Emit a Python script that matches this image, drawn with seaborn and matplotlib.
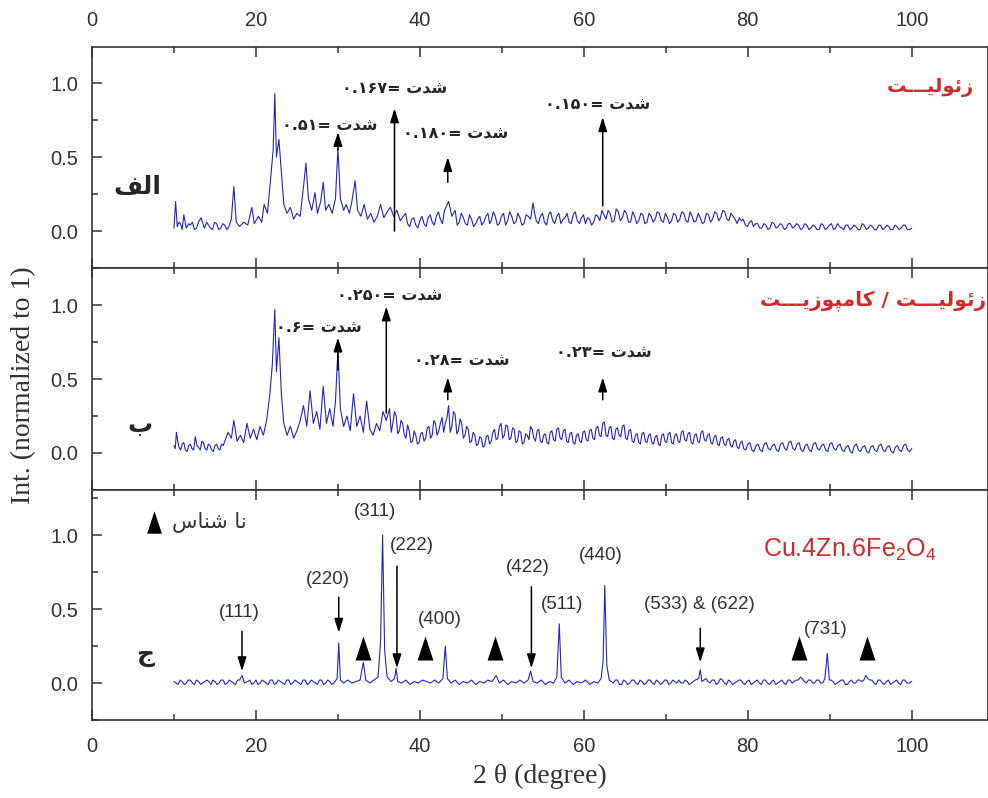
"""
XRD patterns: zeolite, zeolite/composite and Cu.4Zn.6Fe2O4 (stacked panels)
"""
import numpy as np
import pandas as pd
import matplotlib
matplotlib.use('Agg')
import matplotlib.pyplot as plt
from matplotlib.path import Path as MPath
from matplotlib.ticker import MultipleLocator
import seaborn as sns

# ---- data: (2theta, normalized intensity) ----
zeolite_pts = [
    (10.0, 0.02), (10.2, 0.20), (10.4, 0.03), (10.8, 0.05), (11.2, 0.11), (11.5, 0.02), (12.0, 0.04),
    (12.5, 0.01), (13.0, 0.06), (13.3, 0.09), (13.7, 0.02), (14.2, 0.04), (14.7, 0.01), (15.2, 0.05),
    (15.7, 0.02), (16.2, 0.04), (16.7, 0.03), (17.0, 0.08), (17.3, 0.30), (17.6, 0.06), (18.0, 0.03),
    (18.5, 0.06), (19.0, 0.04), (19.5, 0.16), (19.8, 0.05), (20.3, 0.10), (20.7, 0.06), (21.0, 0.18),
    (21.4, 0.12), (21.8, 0.36), (22.1, 0.55), (22.3, 0.93), (22.5, 0.50), (22.8, 0.62), (23.1, 0.40),
    (23.4, 0.18), (23.8, 0.12), (24.2, 0.16), (24.6, 0.08), (25.0, 0.12), (25.4, 0.10), (25.8, 0.30),
    (26.1, 0.46), (26.4, 0.22), (26.8, 0.14), (27.2, 0.26), (27.5, 0.12), (27.9, 0.20), (28.2, 0.33),
    (28.5, 0.14), (28.9, 0.18), (29.3, 0.12), (29.7, 0.22), (30.0, 0.56), (30.3, 0.22), (30.7, 0.14),
    (31.0, 0.18), (31.4, 0.12), (31.7, 0.20), (32.1, 0.34), (32.4, 0.14), (32.8, 0.10), (33.2, 0.18),
    (33.6, 0.08), (34.0, 0.12), (34.4, 0.06), (34.8, 0.10), (35.2, 0.18), (35.6, 0.09), (36.0, 0.13),
    (36.4, 0.16), (36.8, 0.10), (37.2, 0.14), (37.6, 0.07), (38.0, 0.10), (38.5, 0.05), (39.0, 0.08),
    (39.5, 0.04), (40.0, 0.07), (40.5, 0.05), (41.0, 0.09), (41.5, 0.06), (42.0, 0.10), (42.5, 0.08),
    (43.0, 0.14), (43.5, 0.20), (43.9, 0.10), (44.3, 0.14), (44.8, 0.06), (45.3, 0.09), (45.8, 0.04),
    (46.3, 0.08), (46.8, 0.05), (47.3, 0.10), (47.8, 0.06), (48.3, 0.12), (48.7, 0.07), (49.2, 0.10),
    (49.7, 0.05), (50.2, 0.12), (50.7, 0.07), (51.2, 0.10), (51.7, 0.06), (52.2, 0.09), (52.7, 0.05),
    (53.2, 0.10), (53.8, 0.19), (54.2, 0.07), (54.7, 0.10), (55.2, 0.06), (55.7, 0.11), (56.2, 0.07),
    (56.7, 0.10), (57.2, 0.05), (57.7, 0.09), (58.2, 0.06), (58.7, 0.11), (59.2, 0.07), (59.7, 0.09),
    (60.2, 0.05), (60.7, 0.08), (61.2, 0.06), (61.7, 0.10), (62.2, 0.14), (62.7, 0.08), (63.2, 0.12),
    (63.7, 0.07), (64.2, 0.13), (64.7, 0.09), (65.2, 0.12), (65.7, 0.06), (66.2, 0.10), (66.7, 0.07),
    (67.2, 0.11), (67.7, 0.06), (68.2, 0.10), (68.7, 0.08), (69.2, 0.12), (69.7, 0.06), (70.2, 0.09),
    (70.7, 0.07), (71.2, 0.11), (71.7, 0.08), (72.2, 0.12), (72.7, 0.06), (73.2, 0.10), (73.7, 0.07),
    (74.2, 0.09), (74.7, 0.06), (75.2, 0.11), (75.7, 0.08), (76.2, 0.12), (76.7, 0.09), (77.2, 0.13),
    (77.7, 0.07), (78.2, 0.10), (78.7, 0.05), (79.2, 0.07), (79.7, 0.04), (80.2, 0.06), (80.7, 0.03),
    (81.2, 0.05), (81.7, 0.02), (82.2, 0.04), (82.7, 0.02), (83.2, 0.05), (83.7, 0.03), (84.2, 0.04),
    (84.7, 0.02), (85.2, 0.05), (85.7, 0.03), (86.2, 0.04), (86.7, 0.02), (87.2, 0.04), (87.7, 0.02),
    (88.2, 0.03), (88.7, 0.01), (89.2, 0.04), (89.7, 0.02), (90.2, 0.05), (90.7, 0.02), (91.2, 0.03),
    (91.7, 0.01), (92.2, 0.04), (92.7, 0.02), (93.2, 0.03), (93.7, 0.01), (94.2, 0.04), (94.7, 0.02),
    (95.2, 0.03), (95.7, 0.01), (96.2, 0.04), (96.7, 0.02), (97.2, 0.03), (97.7, 0.01), (98.2, 0.03),
    (98.7, 0.02), (99.2, 0.04), (99.7, 0.01), (100.0, 0.02),
]
# finer noise points of the same trace
zeolite_noise = [
    (10.6, 0.06), (11.0, 0.01), (11.8, 0.05), (12.25, 0.06), (12.75, 0.02), (14.0, 0.06), (14.45, 0.02),
    (14.95, 0.06), (15.45, 0.01), (15.95, 0.05), (16.45, 0.01),
    (38.25, 0.12), (38.75, 0.03), (39.25, 0.09), (39.75, 0.02), (40.25, 0.10), (40.75, 0.03), (41.25, 0.11),
    (41.75, 0.04), (42.25, 0.13), (42.75, 0.05), (44.55, 0.04), (45.05, 0.12), (45.55, 0.05), (46.05, 0.11),
    (46.55, 0.03), (47.05, 0.08), (47.55, 0.04), (48.05, 0.10), (48.5, 0.05), (48.95, 0.13), (49.45, 0.04),
    (49.95, 0.10), (50.45, 0.04), (50.95, 0.13), (51.45, 0.05), (51.95, 0.12), (52.45, 0.04), (52.95, 0.11),
    (53.5, 0.08), (54.0, 0.12), (54.45, 0.05), (54.95, 0.12), (55.45, 0.04), (55.95, 0.13), (56.45, 0.05),
    (56.95, 0.12), (57.45, 0.08), (57.95, 0.12), (58.45, 0.05), (58.95, 0.13), (59.45, 0.05), (59.95, 0.11),
    (60.45, 0.09), (60.95, 0.04), (61.45, 0.11), (61.95, 0.07), (62.45, 0.11), (62.95, 0.14), (63.45, 0.06),
    (63.95, 0.15), (64.45, 0.07), (64.95, 0.14), (65.45, 0.06), (65.95, 0.13), (66.45, 0.05), (66.95, 0.12),
    (67.45, 0.05), (67.95, 0.12), (68.45, 0.06), (68.95, 0.13), (69.45, 0.07), (69.95, 0.12), (70.45, 0.05),
    (70.95, 0.12), (71.45, 0.06), (71.95, 0.13), (72.45, 0.07), (72.95, 0.13), (73.45, 0.06), (73.95, 0.12),
    (74.45, 0.05), (74.95, 0.12), (75.45, 0.06), (75.95, 0.13), (76.45, 0.07), (76.95, 0.14), (77.45, 0.08),
    (77.95, 0.12), (78.45, 0.08), (78.95, 0.09), (79.45, 0.08), (79.95, 0.03), (80.45, 0.07), (80.95, 0.05),
    (81.45, 0.02), (81.95, 0.05), (82.45, 0.01), (82.95, 0.06), (83.45, 0.02), (83.95, 0.05), (84.45, 0.01),
    (84.95, 0.05), (85.45, 0.02), (85.95, 0.05), (86.45, 0.01), (86.95, 0.05), (87.45, 0.01), (87.95, 0.04),
    (88.45, 0.01), (88.95, 0.05), (89.45, 0.01), (89.95, 0.04), (90.45, 0.01), (90.95, 0.05), (91.45, 0.02),
    (91.95, 0.04), (92.45, 0.01), (92.95, 0.04), (93.45, 0.01), (93.95, 0.05), (94.45, 0.01), (94.95, 0.04),
    (95.45, 0.01), (95.95, 0.04), (96.45, 0.01), (96.95, 0.04), (97.45, 0.01), (97.95, 0.04), (98.45, 0.01),
    (98.95, 0.04), (99.45, 0.01),
]

composite_pts = [
    (10.0, 0.05), (10.3, 0.14), (10.6, 0.04), (11.0, 0.06), (11.4, 0.02), (11.8, 0.05), (12.2, 0.03),
    (12.6, 0.11), (13.0, 0.04), (13.4, 0.08), (13.8, 0.03), (14.2, 0.06), (14.6, 0.02), (15.0, 0.05),
    (15.4, 0.03), (15.8, 0.06), (16.2, 0.08), (16.6, 0.14), (17.0, 0.10), (17.3, 0.22), (17.7, 0.08),
    (18.1, 0.12), (18.5, 0.07), (18.9, 0.20), (19.3, 0.10), (19.7, 0.16), (20.1, 0.09), (20.5, 0.18),
    (20.9, 0.12), (21.3, 0.22), (21.7, 0.40), (22.0, 0.60), (22.3, 0.97), (22.5, 0.55), (22.8, 0.78),
    (23.1, 0.40), (23.4, 0.20), (23.8, 0.12), (24.2, 0.18), (24.6, 0.10), (25.0, 0.15), (25.4, 0.22),
    (25.8, 0.32), (26.2, 0.18), (26.6, 0.42), (27.0, 0.20), (27.4, 0.28), (27.8, 0.16), (28.2, 0.45),
    (28.6, 0.20), (29.0, 0.30), (29.4, 0.18), (29.7, 0.35), (30.0, 0.70), (30.3, 0.30), (30.7, 0.18),
    (31.1, 0.25), (31.5, 0.15), (31.9, 0.40), (32.3, 0.18), (32.7, 0.25), (33.1, 0.14), (33.5, 0.35),
    (33.9, 0.16), (34.3, 0.12), (34.7, 0.20), (35.1, 0.15), (35.5, 0.28), (35.9, 0.22), (36.3, 0.30),
    (36.7, 0.20), (37.1, 0.25), (37.5, 0.15), (37.9, 0.20), (38.3, 0.10), (38.7, 0.15), (39.1, 0.08),
    (39.5, 0.12), (39.9, 0.07), (40.3, 0.14), (40.7, 0.10), (41.1, 0.18), (41.5, 0.12), (41.9, 0.20),
    (42.3, 0.15), (42.7, 0.24), (43.1, 0.20), (43.5, 0.32), (43.9, 0.18), (44.3, 0.26), (44.7, 0.15),
    (45.1, 0.20), (45.5, 0.12), (45.9, 0.16), (46.3, 0.08), (46.7, 0.12), (47.1, 0.06), (47.5, 0.10),
    (47.9, 0.05), (48.3, 0.12), (48.7, 0.08), (49.1, 0.16), (49.5, 0.10), (49.9, 0.20), (50.3, 0.12),
    (50.7, 0.18), (51.1, 0.10), (51.5, 0.16), (51.9, 0.08), (52.3, 0.14), (52.7, 0.07), (53.1, 0.12),
    (53.5, 0.18), (53.9, 0.10), (54.3, 0.15), (54.7, 0.08), (55.1, 0.12), (55.5, 0.07), (55.9, 0.14),
    (56.3, 0.09), (56.7, 0.16), (57.1, 0.10), (57.5, 0.15), (57.9, 0.08), (58.3, 0.13), (58.7, 0.07),
    (59.1, 0.12), (59.5, 0.08), (59.9, 0.14), (60.3, 0.09), (60.7, 0.15), (61.1, 0.10), (61.5, 0.17),
    (61.9, 0.12), (62.3, 0.20), (62.7, 0.12), (63.1, 0.17), (63.5, 0.10), (63.9, 0.16), (64.3, 0.12),
    (64.7, 0.18), (65.1, 0.10), (65.5, 0.15), (65.9, 0.08), (66.3, 0.12), (66.7, 0.07), (67.1, 0.13),
    (67.5, 0.08), (67.9, 0.12), (68.3, 0.07), (68.7, 0.11), (69.1, 0.06), (69.5, 0.12), (69.9, 0.08),
    (70.3, 0.13), (70.7, 0.07), (71.1, 0.12), (71.5, 0.08), (71.9, 0.14), (72.3, 0.09), (72.7, 0.13),
    (73.1, 0.07), (73.5, 0.12), (73.9, 0.08), (74.3, 0.14), (74.7, 0.09), (75.1, 0.12), (75.5, 0.07),
    (75.9, 0.11), (76.3, 0.06), (76.7, 0.10), (77.1, 0.06), (77.5, 0.09), (77.9, 0.05), (78.3, 0.08),
    (78.7, 0.04), (79.1, 0.07), (79.5, 0.03), (80.0, 0.06), (80.5, 0.02), (81.0, 0.05), (81.5, 0.02),
    (82.0, 0.06), (82.5, 0.03), (83.0, 0.05), (83.5, 0.02), (84.0, 0.06), (84.5, 0.03), (85.0, 0.07),
    (85.5, 0.03), (86.0, 0.06), (86.5, 0.02), (87.0, 0.05), (87.5, 0.02), (88.0, 0.06), (88.5, 0.03),
    (89.0, 0.05), (89.5, 0.02), (90.0, 0.06), (90.5, 0.03), (91.0, 0.05), (91.5, 0.02), (92.0, 0.04),
    (92.5, 0.01), (93.0, 0.05), (93.5, 0.02), (94.0, 0.04), (94.5, 0.01), (95.0, 0.04), (95.5, 0.02),
    (96.0, 0.05), (96.5, 0.02), (97.0, 0.04), (97.5, 0.01), (98.0, 0.04), (98.5, 0.02), (99.0, 0.05),
    (99.5, 0.02), (100.0, 0.03),
]
composite_noise = [
    (10.15, 0.03), (10.45, 0.08), (10.8, 0.02), (11.2, 0.07), (11.6, 0.01), (12.0, 0.06), (12.4, 0.02),
    (12.8, 0.05), (13.2, 0.02), (13.6, 0.07), (14.0, 0.02), (14.4, 0.05), (14.8, 0.01), (15.2, 0.06),
    (15.6, 0.02), (16.0, 0.05),
    (36.5, 0.14), (36.9, 0.28), (37.3, 0.13), (37.7, 0.22), (38.1, 0.12), (38.5, 0.19), (38.9, 0.07),
    (39.3, 0.15), (39.7, 0.06), (40.1, 0.13), (40.5, 0.08), (40.9, 0.17), (41.3, 0.10), (41.7, 0.22),
    (42.1, 0.12), (42.5, 0.20), (42.9, 0.14), (43.3, 0.24), (43.7, 0.14), (44.1, 0.28), (44.5, 0.13),
    (44.9, 0.23), (45.3, 0.10), (45.7, 0.18), (46.1, 0.07), (46.5, 0.14), (46.9, 0.05), (47.3, 0.11),
    (47.7, 0.04), (48.1, 0.11), (48.5, 0.06), (48.9, 0.14), (49.3, 0.09), (49.7, 0.18), (50.1, 0.10),
    (50.5, 0.19), (50.9, 0.09), (51.3, 0.17), (51.7, 0.07), (52.1, 0.15), (52.5, 0.06), (52.9, 0.13),
    (53.3, 0.09), (53.7, 0.16), (54.1, 0.08), (54.5, 0.16), (54.9, 0.07), (55.3, 0.13), (55.7, 0.06),
    (56.1, 0.15), (56.5, 0.08), (56.9, 0.17), (57.3, 0.09), (57.7, 0.16), (58.1, 0.07), (58.5, 0.14),
    (58.9, 0.06), (59.3, 0.13), (59.7, 0.07), (60.1, 0.15), (60.5, 0.08), (60.9, 0.16), (61.3, 0.09),
    (61.7, 0.18), (62.1, 0.11), (62.5, 0.21), (62.9, 0.11), (63.3, 0.18), (63.7, 0.09), (64.1, 0.17),
    (64.5, 0.11), (64.9, 0.19), (65.3, 0.09), (65.7, 0.16), (66.1, 0.07), (66.5, 0.13), (66.9, 0.06),
    (67.3, 0.14), (67.7, 0.07), (68.1, 0.13), (68.5, 0.06), (68.9, 0.12), (69.3, 0.05), (69.7, 0.13),
    (70.1, 0.07), (70.5, 0.14), (70.9, 0.06), (71.3, 0.13), (71.7, 0.07), (72.1, 0.15), (72.5, 0.08),
    (72.9, 0.14), (73.3, 0.06), (73.7, 0.13), (74.1, 0.07), (74.5, 0.15), (74.9, 0.08), (75.3, 0.13),
    (75.7, 0.06), (76.1, 0.12), (76.5, 0.05), (76.9, 0.11), (77.3, 0.05), (77.7, 0.10), (78.1, 0.04),
    (78.5, 0.09), (78.9, 0.03), (79.3, 0.08), (79.75, 0.02), (80.25, 0.07), (80.75, 0.01), (81.25, 0.06),
    (81.75, 0.01), (82.25, 0.07), (82.75, 0.02), (83.25, 0.06), (83.75, 0.01), (84.25, 0.07), (84.75, 0.02),
    (85.25, 0.08), (85.75, 0.02), (86.25, 0.07), (86.75, 0.01), (87.25, 0.06), (87.75, 0.01), (88.25, 0.07),
    (88.75, 0.02), (89.25, 0.06), (89.75, 0.01), (90.25, 0.07), (90.75, 0.02), (91.25, 0.06), (91.75, 0.01),
    (92.25, 0.05), (92.75, 0.00), (93.25, 0.06), (93.75, 0.01), (94.25, 0.05), (94.75, 0.00), (95.25, 0.05),
    (95.75, 0.01), (96.25, 0.06), (96.75, 0.01), (97.25, 0.05), (97.75, 0.00), (98.25, 0.05), (98.75, 0.01),
    (99.25, 0.06), (99.75, 0.01),
]

ferrite_pts = [
    (10.0, 0.01), (10.5, -0.01), (11.0, 0.01), (11.5, 0.0), (12.0, 0.02), (12.5, -0.01), (13.0, 0.01),
    (13.5, 0.0), (14.0, 0.02), (14.5, -0.01), (15.0, 0.01), (15.5, 0.0), (16.0, 0.02), (16.5, 0.0),
    (17.0, 0.01), (17.5, -0.01), (18.0, 0.02), (18.3, 0.05), (18.6, 0.0), (19.0, 0.01), (19.5, -0.01),
    (20.0, 0.02), (20.5, 0.0), (21.0, 0.01), (21.5, -0.01), (22.0, 0.02), (22.5, 0.0), (23.0, 0.01),
    (23.5, -0.01), (24.0, 0.02), (24.5, 0.0), (25.0, 0.01), (25.5, -0.01), (26.0, 0.02), (26.5, 0.0),
    (27.0, 0.01), (27.5, -0.01), (28.0, 0.02), (28.5, 0.0), (29.0, 0.01), (29.5, 0.0), (29.9, 0.03),
    (30.1, 0.27), (30.3, 0.02), (30.7, 0.0), (31.2, 0.02), (31.7, 0.0), (32.2, 0.01), (32.7, 0.02),
    (33.1, 0.14), (33.4, 0.02), (33.9, 0.0), (34.4, 0.02), (34.9, 0.04), (35.2, 0.28), (35.45, 1.0),
    (35.7, 0.22), (36.0, 0.04), (36.5, 0.01), (36.9, 0.03), (37.1, 0.10), (37.3, 0.01), (37.8, 0.0),
    (38.3, 0.02), (38.8, -0.01), (39.3, 0.01), (39.8, 0.0), (40.3, 0.02), (40.8, 0.01), (41.3, 0.0),
    (41.8, 0.02), (42.3, 0.0), (42.8, 0.03), (43.1, 0.25), (43.35, 0.03), (43.8, 0.0), (44.3, 0.02),
    (44.8, -0.01), (45.3, 0.01), (45.8, 0.0), (46.3, 0.02), (46.8, -0.01), (47.3, 0.01), (47.8, 0.0),
    (48.3, 0.02), (48.8, 0.01), (49.3, 0.05), (49.7, 0.0), (50.2, 0.02), (50.7, -0.01), (51.2, 0.01),
    (51.7, 0.0), (52.2, 0.02), (52.7, 0.0), (53.2, 0.02), (53.5, 0.08), (53.8, 0.01), (54.3, 0.0),
    (54.8, 0.02), (55.3, -0.01), (55.8, 0.01), (56.3, 0.0), (56.7, 0.04), (57.0, 0.40), (57.25, 0.04),
    (57.7, 0.0), (58.2, 0.02), (58.7, -0.01), (59.2, 0.01), (59.7, 0.0), (60.2, 0.02), (60.7, -0.01),
    (61.2, 0.01), (61.7, 0.0), (62.1, 0.03), (62.35, 0.15), (62.55, 0.66), (62.8, 0.12), (63.1, 0.02),
    (63.6, 0.0), (64.1, 0.02), (64.6, -0.01), (65.1, 0.01), (65.6, 0.0), (66.1, 0.02), (66.6, -0.01),
    (67.1, 0.01), (67.6, 0.0), (68.1, 0.02), (68.6, -0.01), (69.1, 0.01), (69.6, 0.0), (70.1, 0.02),
    (70.6, 0.0), (71.1, 0.01), (71.6, 0.02), (72.1, 0.0), (72.6, 0.01), (73.1, 0.0), (73.6, 0.02),
    (74.0, 0.03), (74.2, 0.09), (74.4, 0.01), (74.9, 0.03), (75.4, 0.0), (75.9, 0.02), (76.4, 0.0),
    (76.9, 0.02), (77.4, -0.01), (77.9, 0.01), (78.4, 0.0), (78.9, 0.02), (79.4, 0.0), (79.9, 0.01),
    (80.4, -0.01), (80.9, 0.01), (81.4, 0.0), (81.9, 0.02), (82.4, 0.0), (82.9, 0.01), (83.4, -0.01),
    (83.9, 0.01), (84.4, 0.0), (84.9, 0.02), (85.4, 0.0), (85.9, 0.02), (86.4, 0.04), (86.9, 0.01),
    (87.4, 0.02), (87.9, 0.0), (88.4, 0.02), (88.9, 0.0), (89.4, 0.03), (89.7, 0.20), (89.95, 0.02),
    (90.4, 0.01), (90.9, 0.0), (91.4, 0.02), (91.9, -0.01), (92.4, 0.01), (92.9, 0.0), (93.4, 0.02),
    (93.9, 0.01), (94.4, 0.05), (94.9, 0.02), (95.4, 0.0), (95.9, 0.02), (96.4, 0.0), (96.9, 0.01),
    (97.4, -0.01), (97.9, 0.01), (98.4, 0.0), (98.9, 0.02), (99.4, 0.0), (100.0, 0.01),
]
ferrite_noise = [
    (10.25, 0.0), (10.75, 0.02), (11.25, -0.01), (11.75, 0.02), (12.25, 0.0), (12.75, 0.02), (13.25, -0.01),
    (13.75, 0.01), (14.25, 0.01), (14.75, 0.02), (15.25, -0.01), (15.75, 0.02), (16.25, -0.01), (16.75, 0.02),
    (17.25, 0.0), (17.75, 0.02), (19.25, 0.02), (19.75, 0.0), (20.25, -0.01), (20.75, 0.02), (21.25, 0.0),
    (21.75, 0.02), (22.25, -0.01), (22.75, 0.02), (23.25, 0.0), (23.75, 0.02), (24.25, -0.01), (24.75, 0.02),
    (25.25, 0.0), (25.75, 0.02), (26.25, -0.01), (26.75, 0.02), (27.25, 0.0), (27.75, 0.02), (28.25, -0.01),
    (28.75, 0.02), (29.25, -0.01),
    (63.85, 0.02), (64.35, -0.01), (64.85, 0.02), (65.35, -0.01), (65.85, 0.02), (66.35, 0.0), (66.85, 0.02),
    (67.35, -0.01), (67.85, 0.02), (68.35, 0.0), (68.85, 0.02), (69.35, -0.01), (69.85, 0.02), (70.35, -0.01),
    (70.85, 0.02), (71.35, 0.0), (71.85, 0.0), (72.35, 0.02), (72.85, -0.01), (73.35, 0.01), (75.15, 0.01),
    (75.65, 0.02), (76.15, -0.01), (76.65, 0.03), (77.15, 0.0), (77.65, 0.02), (78.15, -0.01), (78.65, 0.01),
    (79.15, 0.02), (79.65, -0.01), (80.15, 0.02), (80.65, 0.0), (81.15, 0.02), (81.65, -0.01), (82.15, 0.02),
    (82.65, -0.01), (83.15, 0.02), (83.65, 0.0), (84.15, 0.02), (84.65, -0.01), (85.15, 0.02), (85.65, 0.01),
    (86.15, 0.02), (86.65, 0.03), (87.15, 0.0), (87.65, 0.02), (88.15, 0.0), (88.65, 0.02), (89.15, 0.0),
    (90.15, 0.02), (90.65, -0.01), (91.15, 0.01), (91.65, 0.02), (92.15, -0.01), (92.65, 0.02), (93.15, 0.0),
    (93.65, 0.02), (94.15, 0.02), (94.65, 0.03), (95.15, 0.02), (95.65, -0.01), (96.15, 0.02), (96.65, -0.01),
    (97.15, 0.02), (97.65, 0.0), (98.15, 0.02), (98.65, -0.01), (99.15, 0.02), (99.7, 0.0),
]

# intensity notes (arrow x, tail y, head y, value text, text x, text y)
zeo_marks_x = [30.0, 36.9, 43.4, 62.3]
zeo_marks_tail = [0.55, 0.0, 0.33, 0.17]
zeo_marks_head = [0.67, 0.83, 0.50, 0.77]
zeo_values = ['۰.۵۱', '۰.۱۶۷', '۰.۱۸۰', '۰.۱۵۰']
zeo_text_x = [29.0, 36.9, 44.3, 61.7]
zeo_text_y = [0.72, 0.97, 0.66, 0.86]

comp_marks_x = [30.0, 35.9, 43.4, 62.3]
comp_marks_tail = [0.56, 0.27, 0.36, 0.36]
comp_marks_head = [0.78, 0.99, 0.51, 0.51]
comp_values = ['۰.۶', '۰.۲۵۰', '۰.۲۸', '۰.۲۳']
comp_text_x = [27.7, 36.3, 45.1, 62.4]
comp_text_y = [0.85, 1.07, 0.63, 0.68]

# ferrite reflections
hkl_labels = ['(111)', '(220)', '(311)', '(222)', '(400)', '(422)', '(511)', '(440)', '(533) & (622)', '(731)']
hkl_x = [18.0, 28.8, 34.5, 39.0, 42.4, 53.2, 57.3, 62.0, 74.1, 89.5]
hkl_y = [0.48, 0.70, 1.16, 0.93, 0.43, 0.78, 0.53, 0.86, 0.53, 0.36]
hkl_arrow_x = [18.3, 30.1, 37.2, 53.6, 74.2]
hkl_arrow_top = [0.35, 0.58, 0.79, 0.65, 0.37]
hkl_arrow_bot = [0.08, 0.34, 0.10, 0.10, 0.14]
unknown_x = [33.1, 40.6, 49.1, 86.3, 94.6]
unknown_y = [0.24, 0.24, 0.24, 0.24, 0.24]

# ---- simple Persian shaping (matplotlib draws no joined / RTL text) ----
FORMS = {  # isolated, final, initial, medial
    'ا': ('\uFE8D', '\uFE8E', None, None),
    'ب': ('\uFE8F', '\uFE90', '\uFE91', '\uFE92'),
    'پ': ('\uFB56', '\uFB57', '\uFB58', '\uFB59'),
    'ت': ('\uFE95', '\uFE96', '\uFE97', '\uFE98'),
    'ج': ('\uFE9D', '\uFE9E', '\uFE9F', '\uFEA0'),
    'د': ('\uFEA9', '\uFEAA', None, None),
    'ز': ('\uFEAF', '\uFEB0', None, None),
    'س': ('\uFEB1', '\uFEB2', '\uFEB3', '\uFEB4'),
    'ش': ('\uFEB5', '\uFEB6', '\uFEB7', '\uFEB8'),
    'ف': ('\uFED1', '\uFED2', '\uFED3', '\uFED4'),
    'ک': ('\uFB8E', '\uFB8F', '\uFB90', '\uFB91'),
    'ل': ('\uFEDD', '\uFEDE', '\uFEDF', '\uFEE0'),
    'م': ('\uFEE1', '\uFEE2', '\uFEE3', '\uFEE4'),
    'ن': ('\uFEE5', '\uFEE6', '\uFEE7', '\uFEE8'),
    'و': ('\uFEED', '\uFEEE', None, None),
    'ی': ('\uFBFC', '\uFBFD', '\uFBFE', '\uFBFF'),
    'ئ': ('\uFE89', '\uFE8A', '\uFE8B', '\uFE8C'),
    'ـ': ('\u0640', '\u0640', '\u0640', '\u0640'),
}


def fa(text):
    """Return Persian text in joined presentation forms, visual (left-to-right) order"""
    out = []
    for i, ch in enumerate(text):
        f = FORMS.get(ch)
        if f is None:
            out.append(ch)
            continue
        prev = text[i - 1] if i > 0 else ''
        nxt = text[i + 1] if i + 1 < len(text) else ''
        jp = prev in FORMS and FORMS[prev][2] is not None
        jn = f[2] is not None and nxt in FORMS
        if jp and jn:
            out.append(f[3])
        elif jp:
            out.append(f[1])
        elif jn:
            out.append(f[2])
        else:
            out.append(f[0])
    return ''.join(reversed(out))


def trace(main, noise):
    """One pattern as a sorted DataFrame of all read points"""
    df = pd.DataFrame(main + noise, columns=['two_theta', 'intensity'])
    return df.sort_values('two_theta').reset_index(drop=True)


sns.set_style('ticks')
plt.rcParams['font.family'] = ['Liberation Sans', 'DejaVu Sans']
plt.rcParams['mathtext.fontset'] = 'custom'
plt.rcParams['mathtext.rm'] = 'Liberation Sans'
plt.rcParams['mathtext.it'] = 'Liberation Sans'

FA = ['DejaVu Sans']
BLUE = '#2424c8'
RED = '#d02a2a'
GREY = '#333333'
# narrow upright triangle used in the reference
TRI = MPath([(-0.33, -0.5), (0.33, -0.5), (0.0, 0.5), (-0.33, -0.5)],
            [MPath.MOVETO, MPath.LINETO, MPath.LINETO, MPath.CLOSEPOLY])

fig = plt.figure(figsize=(9.88, 7.98), dpi=100)
left, width = 92 / 988, 1.0 - 92 / 988
ax1 = fig.add_axes([left, 1 - 268 / 798, width, 221 / 798])
ax2 = fig.add_axes([left, 1 - 490 / 798, width, 222 / 798])
ax3 = fig.add_axes([left, 1 - 720 / 798, width, 230 / 798])

traces = [(zeolite_pts, zeolite_noise, ax1), (composite_pts, composite_noise, ax2),
          (ferrite_pts, ferrite_noise, ax3)]
for main, noise, ax in traces:
    sns.lineplot(data=trace(main, noise), x='two_theta', y='intensity', ax=ax, color=BLUE,
                 linewidth=0.8, estimator=None)

for ax in (ax1, ax2, ax3):
    ax.set_xlim(0, 109.3)
    ax.xaxis.set_major_locator(MultipleLocator(20))
    ax.xaxis.set_minor_locator(MultipleLocator(10))
    ax.yaxis.set_major_locator(MultipleLocator(0.5))
    ax.yaxis.set_minor_locator(MultipleLocator(0.25))
    ax.tick_params(which='both', direction='in', top=True, bottom=True, left=True, right=False,
                   labelsize=14.5, width=1.1, colors=GREY, labelcolor=GREY)
    ax.tick_params(which='major', length=7)
    ax.tick_params(which='minor', length=4)
    ax.tick_params(axis='y', which='major', pad=10)
    ax.tick_params(axis='x', which='major', pad=12)
    ax.set_xlabel('')
    ax.set_ylabel('')
    for s in ax.spines.values():
        s.set_linewidth(1.2)
        s.set_color(GREY)

ax1.set_ylim(-0.25, 1.245)
ax2.set_ylim(-0.25, 1.25)
ax3.set_ylim(-0.25, 1.305)
ax1.tick_params(axis='x', labelbottom=False, labeltop=True)
ax2.tick_params(axis='x', labelbottom=False, labeltop=False)
ax3.tick_params(axis='x', labelbottom=True, labeltop=False)

arrow_kw = dict(arrowstyle='-|>,head_length=0.7,head_width=0.22', color='black', lw=1.1,
                mutation_scale=12, shrinkA=0, shrinkB=0)
word = fa('شدت')

# panel 1: zeolite
for x, t, h in zip(zeo_marks_x, zeo_marks_tail, zeo_marks_head):
    ax1.annotate('', xy=(x, h), xytext=(x, t), arrowprops=arrow_kw)
for v, x, y in zip(zeo_values, zeo_text_x, zeo_text_y):
    ax1.text(x, y, f'{v}= {word}', family=FA, fontsize=11.5, fontweight='bold',
             ha='center', va='center')
ax1.text(107.6, 0.97, fa('زئولیـــت'), family=FA, fontsize=14, fontweight='bold',
         color=RED, ha='right', va='center')
ax1.text(5.5, 0.30, fa('الف'), family=FA, fontsize=18, fontweight='bold', ha='center', va='center')

# panel 2: zeolite / composite
for x, t, h in zip(comp_marks_x, comp_marks_tail, comp_marks_head):
    ax2.annotate('', xy=(x, h), xytext=(x, t), arrowprops=arrow_kw)
for v, x, y in zip(comp_values, comp_text_x, comp_text_y):
    ax2.text(x, y, f'{v}= {word}', family=FA, fontsize=11.5, fontweight='bold',
             ha='center', va='center')
ax2.text(109.1, 1.03, fa('زئولیـــت / کامپوزیـــت'), family=FA, fontsize=14.5, fontweight='bold',
         color=RED, ha='right', va='center')
ax2.text(5.9, 0.19, fa('ب'), family=FA, fontsize=18, fontweight='bold', ha='center', va='center')

# panel 3: ferrite
for lab, x, y in zip(hkl_labels, hkl_x, hkl_y):
    ax3.text(x, y, lab, fontsize=13.5, color=GREY, ha='center', va='center')
for x, t, b in zip(hkl_arrow_x, hkl_arrow_top, hkl_arrow_bot):
    ax3.annotate('', xy=(x, b), xytext=(x, t), arrowprops=arrow_kw)
tri = pd.DataFrame({'x': unknown_x, 'y': unknown_y})
sns.scatterplot(data=tri, x='x', y='y', ax=ax3, marker=TRI, s=300, color='black',
                linewidth=0, legend=False)
sns.scatterplot(x=[7.6], y=[1.09], ax=ax3, marker=TRI, s=260, color='black', linewidth=0, legend=False)
ax3.set_xlabel('')
ax3.set_ylabel('')
ax3.text(9.8, 1.09, fa('نا شناس'), family=FA, fontsize=15, color=GREY, ha='left', va='center')
ax3.text(92.4, 0.90, 'Cu.4Zn.6Fe$_2$O$_4$', fontsize=18, color=RED, ha='center', va='center')
ax3.text(6.5, 0.19, fa('ج'), family=FA, fontsize=18, fontweight='bold', ha='center', va='center')
ax3.set_xlabel('2 θ (degree)', family='Liberation Serif', fontsize=20, color=GREY, labelpad=6)

fig.text(24 / 988, 1 - 385 / 798, 'Int. (normalized to 1)', family='Liberation Serif', fontsize=20,
         color=GREY, rotation=90, ha='center', va='center')

plt.savefig('out.png', dpi=100)
plt.close()
